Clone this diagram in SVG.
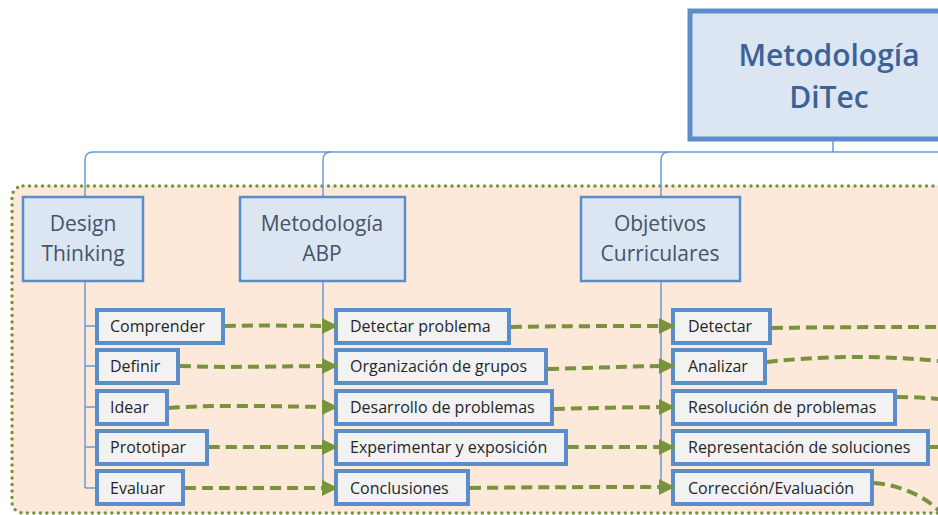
<svg xmlns="http://www.w3.org/2000/svg" width="938" height="515" viewBox="0 0 938 515">
  <defs>
    <marker id="arrow" viewBox="0 0 16 16" refX="16" refY="8" markerWidth="16" markerHeight="16" markerUnits="userSpaceOnUse" orient="auto">
      <path d="M0,0 L16,8 L0,16 Z" fill="#77933c"/>
    </marker>
    <style>
      .tree { fill: none; stroke: #6a9bd3; stroke-width: 1.5; }
      .flow { fill: none; stroke: #77933c; stroke-width: 4; stroke-dasharray: 11 6; }
      .root rect { fill: #dce6f2; stroke: #5b8dcb; stroke-width: 5; }
      .root text { font-family: "Open Sans", "Liberation Sans", sans-serif; font-size: 30px; font-weight: 600; fill: #3d6296; text-anchor: middle; }
      .head rect { fill: #dce6f2; stroke: #5b8dcb; stroke-width: 2.5; }
      .head text { font-family: "Open Sans", "Liberation Sans", sans-serif; font-size: 21px; fill: #44546a; text-anchor: middle; }
      .item rect { fill: #f2f2f2; stroke: #5b8dcb; stroke-width: 4; }
      .item text { font-family: "Open Sans", "Liberation Sans", sans-serif; font-size: 16px; fill: #262626; }
    </style>
  </defs>

  <rect width="938" height="515" fill="#ffffff"/>

  <!-- shaded group area -->
  <rect x="12" y="186" width="940" height="327" rx="11" fill="#fde9da" stroke="#77933c" stroke-width="3.5" stroke-dasharray="0 6.5" stroke-linecap="round"/>

  <g id="n-ditec" class="root">
    <rect x="690" y="11" width="290" height="128"/>
    <text x="829" y="66">Metodología</text>
    <text x="829" y="108">DiTec</text>
  </g>

  <g id="n-design" class="head">
    <rect x="23" y="197" width="120" height="84"/>
    <text x="83" y="231">Design</text>
    <text x="83" y="261">Thinking</text>
  </g>
  <g id="n-abp" class="head">
    <rect x="240" y="197" width="165" height="84"/>
    <text x="322" y="231">Metodología</text>
    <text x="322" y="261">ABP</text>
  </g>
  <g id="n-objetivos" class="head">
    <rect x="581" y="197" width="159" height="84"/>
    <text x="660" y="231">Objetivos</text>
    <text x="660" y="261">Curriculares</text>
  </g>

  <g id="n-comprender" class="item"><rect x="97" y="310" width="126" height="33"/><text x="110" y="332">Comprender</text></g>
  <g id="n-definir" class="item"><rect x="97" y="350" width="81" height="33"/><text x="110" y="372">Definir</text></g>
  <g id="n-idear" class="item"><rect x="97" y="391" width="70" height="33"/><text x="110" y="413">Idear</text></g>
  <g id="n-prototipar" class="item"><rect x="97" y="431" width="110" height="33"/><text x="110" y="453">Prototipar</text></g>
  <g id="n-evaluar" class="item"><rect x="97" y="471" width="86" height="33"/><text x="110" y="494">Evaluar</text></g>

  <g id="n-detectar-problema" class="item"><rect x="336" y="310" width="173" height="33"/><text x="350" y="332">Detectar problema</text></g>
  <g id="n-organizacion" class="item"><rect x="336" y="350" width="210" height="33"/><text x="350" y="372">Organización de grupos</text></g>
  <g id="n-desarrollo" class="item"><rect x="336" y="391" width="216" height="33"/><text x="350" y="413">Desarrollo de problemas</text></g>
  <g id="n-experimentar" class="item"><rect x="336" y="431" width="230" height="33"/><text x="350" y="453">Experimentar y exposición</text></g>
  <g id="n-conclusiones" class="item"><rect x="336" y="471" width="132" height="33"/><text x="350" y="494">Conclusiones</text></g>

  <g id="n-detectar" class="item"><rect x="673" y="310" width="97" height="33"/><text x="688" y="332">Detectar</text></g>
  <g id="n-analizar" class="item"><rect x="673" y="350" width="92" height="33"/><text x="688" y="372">Analizar</text></g>
  <g id="n-resolucion" class="item"><rect x="673" y="391" width="222" height="33"/><text x="688" y="413">Resolución de problemas</text></g>
  <g id="n-representacion" class="item"><rect x="673" y="431" width="255" height="33"/><text x="688" y="453">Representación de soluciones</text></g>
  <g id="n-correccion" class="item"><rect x="673" y="471" width="199" height="33"/><text x="688" y="494">Corrección/Evaluación</text></g>

  <!-- tree connectors and dashed flows, drawn over the box borders -->
  <g id="connectors">
    <path class="tree" d="M833 141 V152"/>
    <path class="tree" d="M938 152 H93 Q85 152 85 160 V196"/>
    <path class="tree" d="M331 152 Q323 152 323 160 V196"/>
    <path class="tree" d="M669 152 Q661 152 661 160 V196"/>

    <path class="tree" d="M85 282 V488 M85 326 H95 M85 366 H95 M85 407 H95 M85 447 H95 M85 488 H95"/>
    <path class="tree" d="M323 282 V488 M323 326 H330 M323 366 H330 M323 407 H330 M323 447 H330 M323 488 H330"/>
    <path class="tree" d="M661 282 V488 M661 326 H668 M661 366 H668 M661 407 H668 M661 447 H668 M661 488 H668"/>

    <path class="flow" d="M225 326 C260 325 300 326 338 326" marker-end="url(#arrow)"/>
    <path class="flow" d="M180 366 C230 368 290 366 338 366" marker-end="url(#arrow)"/>
    <path class="flow" d="M169 408 C220 404 290 407 338 407" marker-end="url(#arrow)"/>
    <path class="flow" d="M209 447 C250 447 300 447 338 447" marker-end="url(#arrow)"/>
    <path class="flow" d="M185 488 C230 488 290 488 338 488" marker-end="url(#arrow)"/>

    <path class="flow" d="M511 327 C560 326 620 326 675 326" marker-end="url(#arrow)"/>
    <path class="flow" d="M548 369 C590 368 630 366 675 366" marker-end="url(#arrow)"/>
    <path class="flow" d="M554 409 C590 408 640 407 675 407" marker-end="url(#arrow)"/>
    <path class="flow" d="M568 447 C600 447 640 447 675 447" marker-end="url(#arrow)"/>
    <path class="flow" d="M470 488 C540 487 610 487 675 487" marker-end="url(#arrow)"/>

    <path class="flow" d="M772 328 C830 327 890 327 938 327"/>
    <path class="flow" d="M767 362 C820 356 880 355 938 361"/>
    <path class="flow" d="M897 397 C915 397 928 398 938 399"/>
    <path class="flow" d="M930 447 H938"/>
    <path class="flow" d="M874 483 C900 485 925 496 940 512"/>
  </g>
</svg>
